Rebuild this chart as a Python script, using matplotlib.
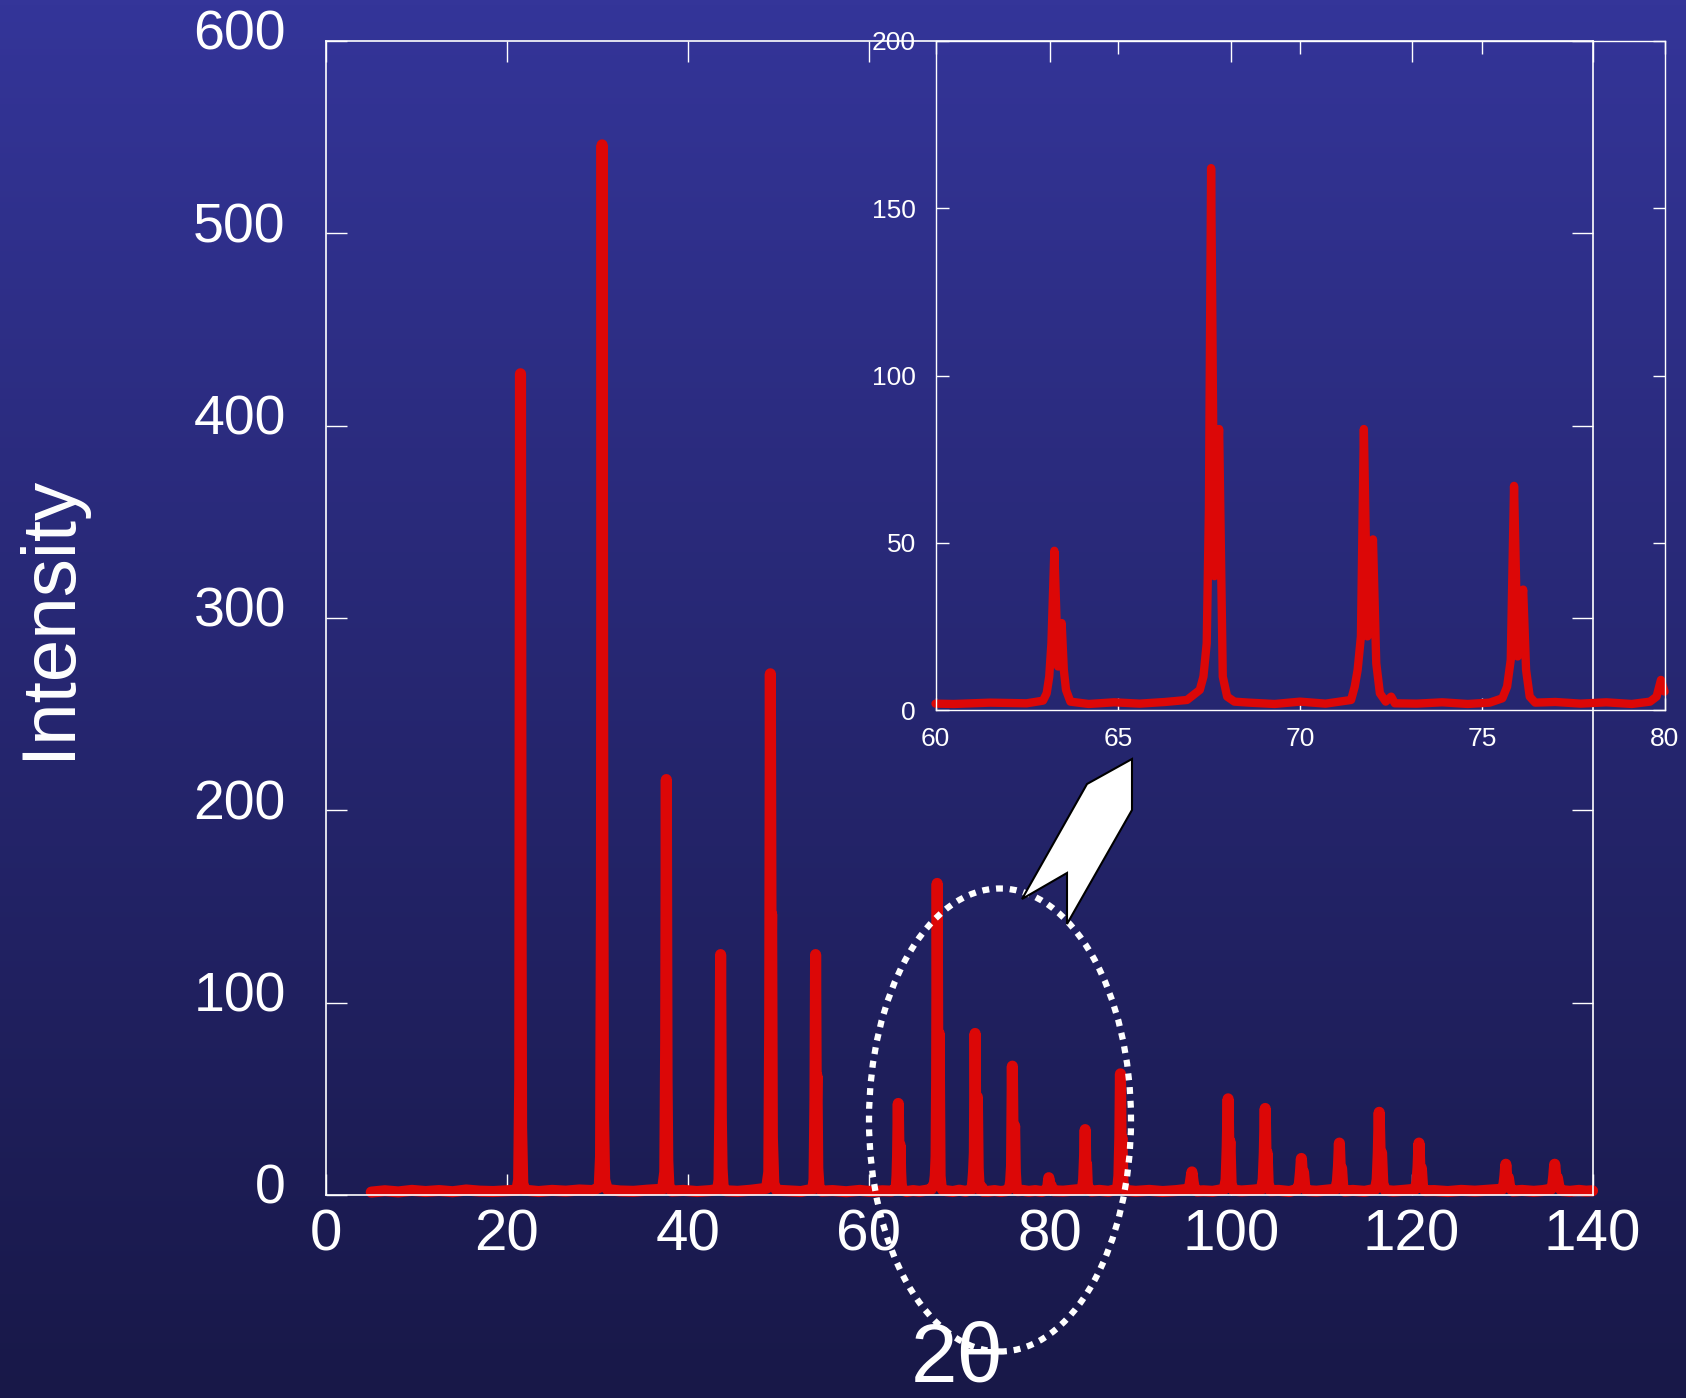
import numpy as np
import matplotlib
matplotlib.use("Agg")
import matplotlib.pyplot as plt
from matplotlib.patches import Ellipse, Polygon
from matplotlib.transforms import ScaledTranslation

# XRD pattern (2theta in degrees, intensity in counts)
two_theta = [
    5.0, 6.5, 8.0, 9.5, 11.0, 12.5, 14.0, 15.5, 17.0, 18.5, 20.0, 21.1,
    21.3, 21.42, 21.5, 21.56, 21.62, 21.75, 22.0,
    23.5, 25.0, 26.5, 28.0, 29.5, 30.2,
    30.35, 30.45, 30.52, 30.6, 30.68, 30.8, 31.1,
    32.5, 34.0, 35.5, 37.2,
    37.45, 37.55, 37.62, 37.7, 37.78, 37.9, 38.2,
    39.5, 41.0, 42.5, 43.3,
    43.45, 43.55, 43.62, 43.7, 43.78, 43.9, 44.2,
    45.5, 47.0, 48.7,
    48.95, 49.05, 49.12, 49.2, 49.26, 49.34, 49.5, 49.8,
    51.0, 52.5, 53.8,
    53.95, 54.05, 54.12, 54.2, 54.27, 54.36, 54.5, 54.8,
    56.0, 57.5, 59.0, 60.0, 60.5, 61.5, 62.5, 62.95,
    63.05, 63.12, 63.18, 63.26, 63.36, 63.46, 63.52, 63.58, 63.7,
    64.2, 64.9, 65.6, 66.3, 66.9, 67.25,
    67.35, 67.44, 67.5, 67.56, 67.65, 67.72, 67.78, 67.88, 68.0, 68.2,
    68.6, 69.3, 70.0, 70.7, 71.4,
    71.5, 71.58, 71.67, 71.75, 71.85, 71.92, 72.0, 72.09, 72.19, 72.35, 72.5, 72.6,
    73.2, 73.9, 74.6, 75.2, 75.55,
    75.68, 75.78, 75.87, 75.97, 76.05, 76.12, 76.2, 76.3, 76.45,
    77.0, 77.7, 78.4, 79.1, 79.6,
    79.78, 79.9, 80.0, 80.15, 80.4,
    81.5, 82.5, 83.6,
    83.75, 83.85, 83.92, 84.0, 84.07, 84.15, 84.3, 84.6,
    85.5, 86.5, 87.5,
    87.65, 87.75, 87.82, 87.9, 87.98, 88.1, 88.4,
    89.5, 91.0, 92.5, 94.0, 95.3,
    95.5, 95.62, 95.72, 95.85, 96.0, 96.3,
    97.0, 98.0, 99.3,
    99.5, 99.62, 99.72, 99.82, 99.92, 100.05, 100.3,
    101.2, 102.4, 103.4,
    103.6, 103.72, 103.82, 103.93, 104.03, 104.15, 104.4,
    105.3, 106.5, 107.4,
    107.6, 107.72, 107.82, 107.94, 108.05, 108.2, 108.4,
    109.5, 110.6, 111.6,
    111.8, 111.92, 112.02, 112.14, 112.26, 112.4, 112.6,
    113.5, 114.8, 116.0,
    116.2, 116.32, 116.42, 116.55, 116.68, 116.82, 117.1,
    118.0, 119.3, 120.4,
    120.6, 120.72, 120.82, 120.95, 121.08, 121.22, 121.5,
    122.5, 124.0, 125.5, 127.0, 128.5, 130.0,
    130.2, 130.32, 130.42, 130.56, 130.7, 130.85, 131.2,
    132.2, 133.5, 134.5, 135.4,
    135.6, 135.72, 135.82, 135.98, 136.12, 136.3, 136.6,
    137.5, 138.5, 139.3, 140.0,
]
intensity = [
    1.5, 2.2, 1.6, 2.4, 1.8, 2.3, 1.7, 2.6, 2.0, 1.8, 2.2, 2.5,
    8, 60, 427, 150, 35, 6, 2.5,
    1.8, 2.4, 2.0, 2.6, 2.3, 4,
    20, 150, 546, 180, 40, 8, 2.8,
    2.1, 1.9, 2.5, 3,
    12, 80, 216, 60, 18, 5, 2,
    2.4, 1.8, 2.3, 3,
    8, 50, 125, 40, 14, 4, 2.2,
    1.9, 2.5, 3.5,
    12, 90, 271, 120, 146, 30, 6, 2.5,
    2.2, 1.8, 3,
    8, 50, 125, 45, 62, 14, 4, 2,
    2.3, 1.7, 2.4, 1.9, 1.8, 2.2, 2.0, 2.8,
    5, 10, 20, 47.6, 13, 26, 12, 6, 2.5,
    1.8, 2.3, 1.9, 2.4, 3, 6,
    10, 20, 60, 162, 40, 70, 84, 10, 4, 2.5,
    2.2, 1.8, 2.5, 1.9, 3,
    7, 12, 22, 84, 22, 35, 51, 14, 5, 2.5, 4, 2,
    1.9, 2.3, 1.8, 2.2, 3.5,
    7, 15, 67, 16, 28, 36, 12, 4, 2.2,
    2.4, 1.9, 2.3, 1.8, 2.5,
    4, 9, 5.5, 5, 2.2,
    2.0, 2.5, 3,
    8, 20, 34, 12, 16, 6, 3, 2,
    2.4, 1.9, 3,
    10, 30, 63, 22, 30, 6, 2.4,
    1.9, 2.4, 1.8, 2.3, 3,
    5, 9, 12, 7, 3, 2,
    2.2, 1.9, 3,
    8, 25, 50, 18, 28, 6, 2.5,
    2.1, 2.5, 3,
    8, 22, 45, 15, 22, 6, 2.2,
    2.4, 1.8, 3,
    6, 12, 19, 10, 12, 4, 2.3,
    2.0, 2.5, 3,
    7, 15, 27, 10, 14, 4, 2,
    2.4, 1.9, 3,
    8, 22, 43, 15, 22, 6, 2.4,
    2.0, 2.5, 3,
    7, 15, 27, 10, 14, 4, 2.2,
    2.3, 1.8, 2.4, 2.0, 2.5, 3,
    5, 10, 16, 7, 9, 4, 2,
    2.4, 1.9, 2.3, 3,
    5, 10, 16, 8, 9, 4, 2.3,
    1.9, 2.4, 2.0, 2.2,
]

main_xticks = [0, 20, 40, 60, 80, 100, 120, 140]
main_yticks = [0, 100, 200, 300, 400, 500, 600]
inset_xticks = [60, 65, 70, 75, 80]
inset_yticks = [0, 50, 100, 150, 200]

RED = "#dc0707"
W, H = 1686, 1398

plt.rcParams['font.family'] = ['Liberation Sans', 'DejaVu Sans']
fig = plt.figure(figsize=(W / 100, H / 100), dpi=100)

# gradient background
bg = fig.add_axes([0, 0, 1, 1], zorder=-10)
t = np.linspace(0, 1, 256)[:, None, None]
top_c = np.array([52, 53, 153]) / 255
bot_c = np.array([24, 24, 72]) / 255
bg.imshow(top_c * (1 - t) + bot_c * t, aspect="auto", extent=[0, 1, 0, 1])
bg.axis("off")

# main plot
ax = fig.add_axes([326 / W, 1 - 1195 / H, (1592.5 - 326) / W, (1195 - 41) / H], facecolor="none")
ax.plot(two_theta, intensity, color=RED, lw=8, solid_capstyle="round",
        solid_joinstyle="round", clip_on=False)
ax.set_xlim(0, 140)
ax.set_ylim(0, 600)
ax.set_xticks(main_xticks)
ax.set_yticks(main_yticks)
ax.tick_params(direction="in", length=15, width=1, colors="white",
               top=True, right=True, labelsize=40)
ax.tick_params(axis="y", pad=29)
ax.tick_params(axis="x", pad=10, labelsize=42)
for s in ax.spines.values():
    s.set_color("white")
    s.set_linewidth(1.2)
# y labels sit a little above their ticks in the original
up = ScaledTranslation(0, 8 / 72, fig.dpi_scale_trans)
for lab in ax.get_yticklabels():
    lab.set_transform(lab.get_transform() + up)

# inset, zoom on 60-80
tt = np.array(two_theta)
ii = np.array(intensity)
sel = (tt >= 60) & (tt <= 80)
ins = fig.add_axes([935.5 / W, 1 - 710 / H, (1664.6 - 935.5) / W, (710 - 41) / H], facecolor="none")
ins.plot(tt[sel], ii[sel], color=RED, lw=6, solid_capstyle="round",
         solid_joinstyle="round", clip_on=False)
ins.set_xlim(60, 80)
ins.set_ylim(0, 200)
ins.set_xticks(inset_xticks)
ins.set_yticks(inset_yticks)
ins.tick_params(direction="in", length=9, width=1, colors="white",
                top=True, right=True, labelsize=19)
ins.tick_params(axis="y", pad=14)
ins.tick_params(axis="x", pad=12)
for s in ins.spines.values():
    s.set_color("white")
    s.set_linewidth(1)

fig.text(50 / W, 1 - 617 / H, "Intensity", rotation=90, color="white",
         fontsize=55, ha="center", va="center")
fig.text(957 / W, 1 - 1382 / H, "2θ", color="white", fontsize=60,
         ha="center", va="baseline")

# dotted ellipse round the 60-80 region, and the block arrow to the inset
ell = Ellipse((1000 / W, 1 - 1120 / H), 262 / W, 463 / H, transform=fig.transFigure,
              fill=False, edgecolor="white", lw=4.5, linestyle=(0, (1.1, 1.1)), zorder=5)
fig.add_artist(ell)
arrow_px = [(1022, 899), (1067, 873), (1067, 924), (1132, 810), (1132, 759), (1087, 784)]
arrow = Polygon([(x / W, 1 - y / H) for x, y in arrow_px], closed=True,
                transform=fig.transFigure, facecolor="white", edgecolor="black",
                lw=1.5, zorder=6)
fig.add_artist(arrow)

fig.savefig("out.png", dpi=100)
